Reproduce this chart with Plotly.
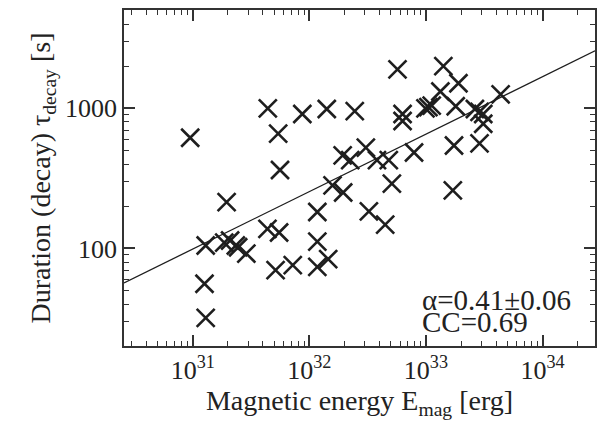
import numpy as np
import plotly.graph_objects as go

# Flare magnetic energy (erg) and decay duration (s)
energy = [9.5e30, 4.4e31, 5.4e31, 5.6e31, 1.95e31, 1.29e31, 1.26e31, 1.29e31,
          1.86e31, 2.09e31, 2.34e31, 2.45e31, 2.88e31, 4.37e31, 5.5e31, 5.13e31,
          7.2e31, 1.17e32, 1.17e32, 1.17e32, 1.45e32, 8.7e31, 1.41e32, 2.45e32,
          1.93e32, 2.24e32, 1.58e32, 1.95e32, 3.05e32, 3.8e32, 4.8e32, 7.9e32,
          5.1e32, 3.24e32, 4.47e32, 6.3e32, 6.3e32, 5.7e32, 1.41e33, 1.9e33,
          1.33e33, 4.37e33, 1.8e33, 9.9e32, 1.05e33, 1.12e33, 2.63e33, 2.88e33,
          3.1e33, 3.1e33, 1.74e33, 2.88e33, 1.7e33]
decay = [617, 1000, 660, 363, 214, 105, 56, 32,
         110, 114, 105, 102, 92, 138, 130, 70,
         76, 182, 112, 74, 84, 912, 990, 955,
         462, 427, 282, 251, 525, 427, 427, 484,
         290, 184, 148, 912, 813, 1900, 2000, 1510,
         1320, 1260, 1035, 1000, 1020, 1045, 990, 945,
         912, 776, 543, 562, 260]

# Power-law fit: log10(tau) = ALPHA * log10(E) + INTERCEPT
ALPHA = 0.41
ALPHA_ERR = 0.06
INTERCEPT = -10.714
CC = 0.69

x_log_range = [30.41, 34.45]
y_log_range = [1.304, 3.702]

x_tickvals = [1e31, 1e32, 1e33, 1e34]
x_ticktext = ["10<sup>31</sup>", "10<sup>32</sup>", "10<sup>33</sup>", "10<sup>34</sup>"]
y_tickvals = [100, 1000]
y_ticktext = ["100", "1000"]

x_minor = [m * 10.0 ** d for d in range(30, 35) for m in range(2, 10)]
y_minor = [m * 10.0 ** d for d in range(1, 4) for m in range(2, 10)]

fit_logx = np.array(x_log_range)
fit_x = 10 ** fit_logx
fit_y = 10 ** (ALPHA * fit_logx + INTERCEPT)

ink = "#1e1e1e"
axis_col = "#333333"
text_col = "#222222"
font_family = "Liberation Serif"

fig = go.Figure()
fig.add_trace(go.Scatter(
    x=fit_x, y=fit_y, mode="lines",
    line=dict(color=ink, width=1.3), showlegend=False, hoverinfo="skip"))
fig.add_trace(go.Scatter(
    x=energy, y=decay, mode="markers",
    marker=dict(symbol="x-thin", size=18, line=dict(color=ink, width=2.6)),
    showlegend=False))

axis_common = dict(
    type="log", showgrid=False, zeroline=False,
    showline=True, linecolor=axis_col, linewidth=1.5, mirror="allticks",
    ticks="inside", ticklen=11, tickwidth=1.5, tickcolor=axis_col,
    tickfont=dict(family=font_family, size=26, color=text_col),
)

fig.update_xaxes(
    **axis_common, range=x_log_range,
    tickmode="array", tickvals=x_tickvals, ticktext=x_ticktext,
    minor=dict(tickmode="array", tickvals=x_minor, ticks="inside",
               ticklen=5, tickwidth=1.2, tickcolor=axis_col),
    title=dict(text="Magnetic energy E<sub>mag</sub> [erg]",
               font=dict(family=font_family, size=28, color=text_col),
               standoff=4),
)
fig.update_yaxes(
    **axis_common, range=y_log_range,
    tickmode="array", tickvals=y_tickvals, ticktext=y_ticktext,
    minor=dict(tickmode="array", tickvals=y_minor, ticks="inside",
               ticklen=5, tickwidth=1.2, tickcolor=axis_col),
    title=dict(text="Duration (decay) τ<sub>decay</sub> [s]",
               font=dict(family=font_family, size=28, color=text_col),
               standoff=6),
)

fig.add_annotation(
    xref="paper", yref="paper", x=0.628, y=0.137, xanchor="left", yanchor="middle",
    text=f"α={ALPHA:.2f}±{ALPHA_ERR:.2f}", showarrow=False,
    font=dict(family=font_family, size=29, color=text_col))
fig.add_annotation(
    xref="paper", yref="paper", x=0.628, y=0.072, xanchor="left", yanchor="middle",
    text=f"CC={CC:.2f}", showarrow=False,
    font=dict(family=font_family, size=29, color=text_col))

fig.update_layout(
    width=597, height=423,
    margin=dict(l=124, r=0, t=10, b=77),
    paper_bgcolor="white", plot_bgcolor="white",
)

fig.write_html("out.html")
